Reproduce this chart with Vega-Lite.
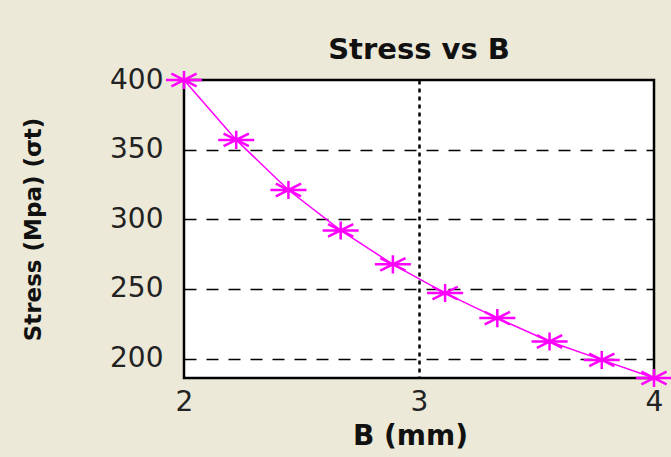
{
  "$schema": "https://vega.github.io/schema/vega-lite/v6.json",
  "autosize": {"type": "none"},
  "width": 470,
  "height": 298,
  "padding": {"left": 184, "top": 80, "right": 17, "bottom": 79},
  "background": "#ECE9D8",
  "title": {
    "text": "Stress vs B",
    "font": "DejaVu Sans",
    "fontSize": 29,
    "fontWeight": "bold",
    "color": "#111111",
    "anchor": "middle",
    "frame": "group",
    "baseline": "alphabetic",
    "offset": 22,
    "dy": 44
  },
  "data": {
    "values": [
      {"B": 2.0, "stress": 400.0},
      {"B": 2.2222, "stress": 357.0},
      {"B": 2.4444, "stress": 321.0},
      {"B": 2.6667, "stress": 292.0},
      {"B": 2.8889, "stress": 267.6},
      {"B": 3.1111, "stress": 247.0},
      {"B": 3.3333, "stress": 229.0},
      {"B": 3.5556, "stress": 212.2},
      {"B": 3.7778, "stress": 199.0},
      {"B": 4.0, "stress": 186.0}
    ]
  },
  "encoding": {
    "x": {
      "field": "B",
      "type": "quantitative",
      "scale": {"domain": [2, 4], "nice": false, "zero": false},
      "axis": {
        "title": "B  (mm)",
        "values": [2, 3, 4],
        "labelExpr": "format(datum.value, 'd')",
        "labelFlush": false,
        "domain": false,
        "ticks": false,
        "labelOverlap": false,
        "labelPadding": 10,
        "labelFont": "DejaVu Sans",
        "labelFontSize": 28,
        "labelColor": "#222222",
        "grid": true,
        "gridColor": "#000000",
        "gridDash": [4, 4],
        "gridWidth": 2.5,
        "gridOpacity": {"condition": {"test": "datum.value == 3", "value": 1}, "value": 0},
        "titleFont": "DejaVu Sans",
        "titleFontSize": 28,
        "titleFontWeight": "bold",
        "titleColor": "#111111",
        "titleX": 226,
        "titleY": 58,
        "titleBaseline": "middle",
        "titleAnchor": "middle"
      }
    },
    "y": {
      "field": "stress",
      "type": "quantitative",
      "scale": {"domain": [186, 400], "nice": false, "zero": false},
      "axis": {
        "title": "Stress (Mpa) (σt)",
        "values": [200, 250, 300, 350, 400],
        "domain": false,
        "ticks": false,
        "labelOverlap": false,
        "labelPadding": 21,
        "labelFont": "DejaVu Sans",
        "labelFontSize": 28,
        "labelColor": "#222222",
        "grid": true,
        "gridColor": "#000000",
        "gridDash": [12, 10],
        "gridWidth": 1.5,
        "gridOpacity": {"condition": {"test": "datum.value == 400", "value": 0}, "value": 1},
        "titleFont": "DejaVu Sans",
        "titleFontSize": 23,
        "titleFontWeight": "bold",
        "titleColor": "#111111",
        "titleAngle": -90,
        "titleX": -151,
        "titleY": 149,
        "titleBaseline": "middle",
        "titleAlign": "center"
      }
    }
  },
  "layer": [
    {
      "mark": {"type": "line", "color": "#FF00FF", "strokeWidth": 1.5}
    },
    {
      "mark": {
        "type": "point",
        "shape": "M-1,0L1,0M0,-0.5L0,0.5M-0.7,-0.35L0.7,0.35M-0.7,0.35L0.7,-0.35",
        "size": 1300,
        "filled": false,
        "stroke": "#FF00FF",
        "strokeWidth": 2.5,
        "opacity": 1
      }
    }
  ],
  "config": {
    "view": {"fill": "#FFFFFF", "stroke": "#000000", "strokeWidth": 2.5}
  }
}
